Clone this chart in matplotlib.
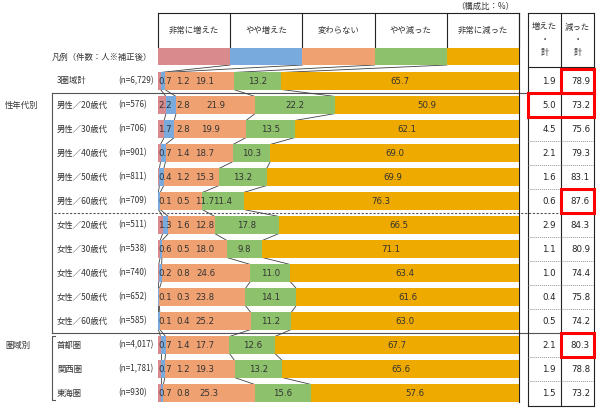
import matplotlib.pyplot as plt
from matplotlib.patches import Rectangle
import numpy as np

plt.rcParams['font.family'] = ['Noto Sans CJK JP', 'DejaVu Sans']

categories = ['非常に増えた', 'やや増えた', '変わらない', 'やや減った', '非常に減った']
colors = ['#D98A8C', '#79AADD', '#F0A171', '#8DC16C', '#EFAA00']

row_labels = ['3圏域計', '男性／20歳代', '男性／30歳代', '男性／40歳代', '男性／50歳代', '男性／60歳代',
              '女性／20歳代', '女性／30歳代', '女性／40歳代', '女性／50歳代', '女性／60歳代',
              '首都圏', '関西圏', '東海圏']
n_labels = ['(n=6,729)', '(n=576)', '(n=706)', '(n=901)', '(n=811)', '(n=709)',
            '(n=511)', '(n=538)', '(n=740)', '(n=652)', '(n=585)',
            '(n=4,017)', '(n=1,781)', '(n=930)']
very_up = [0.7, 2.2, 1.7, 0.7, 0.4, 0.1, 1.3, 0.6, 0.2, 0.1, 0.1, 0.7, 0.7, 0.7]
some_up = [1.2, 2.8, 2.8, 1.4, 1.2, 0.5, 1.6, 0.5, 0.8, 0.3, 0.4, 1.4, 1.2, 0.8]
same = [19.1, 21.9, 19.9, 18.7, 15.3, 11.7, 12.8, 18.0, 24.6, 23.8, 25.2, 17.7, 19.3, 25.3]
some_down = [13.2, 22.2, 13.5, 10.3, 13.2, 11.4, 17.8, 9.8, 11.0, 14.1, 11.2, 12.6, 13.2, 15.6]
very_down = [65.7, 50.9, 62.1, 69.0, 69.9, 76.3, 66.5, 71.1, 63.4, 61.6, 63.0, 67.7, 65.6, 57.6]
up_total = [1.9, 5.0, 4.5, 2.1, 1.6, 0.6, 2.9, 1.1, 1.0, 0.4, 0.5, 2.1, 1.9, 1.5]
down_total = [78.9, 73.2, 75.6, 79.3, 83.1, 87.6, 84.3, 80.9, 74.4, 75.8, 74.2, 80.3, 78.8, 73.2]

# red boxes in the right table: (row, first column, last column)
highlights = [(0, 1, 1), (1, 0, 1), (5, 1, 1), (11, 1, 1)]


def X(px):
    return (px - 158) / 3.61


def Y(px):
    return (px - 81) / 24


fig = plt.figure(figsize=(6, 4.11), dpi=100)
ax = fig.add_axes([0, 0, 1, 1])
ax.set_xlim(X(0), X(600))
ax.set_ylim(Y(411), Y(0))
ax.axis('off')

vals = np.array([very_up, some_up, same, some_down, very_down]).T
lefts = np.cumsum(vals, axis=1) - vals
rows = np.arange(len(row_labels))
h = 0.71
txt = '#333333'
line = '#404040'

# bars
for k in range(5):
    ax.barh(rows, vals[:, k], left=lefts[:, k], height=h, color=colors[k], zorder=3)

# connectors between bars
bounds = np.cumsum(vals, axis=1)[:, :4]
for i in range(len(rows) - 1):
    for k in range(4):
        ax.plot([bounds[i, k], bounds[i + 1, k]], [i + h / 2, i + 1 - h / 2],
                color=line, lw=0.6, zorder=2)
for k in range(4):
    ax.plot([20 * (k + 1), bounds[0, k]], [Y(65), -h / 2], color=line, lw=0.6, zorder=2)

# value labels, row labels, table numbers
for i in rows:
    c3 = lefts[i, 2] + vals[i, 2] / 2
    xs = [2.0, 7.0, max(c3, 13.0), lefts[i, 3] + vals[i, 3] / 2, lefts[i, 4] + vals[i, 4] / 2]
    for k in range(5):
        ax.text(xs[k], i, f'{vals[i, k]:.1f}', ha='center', va='center', fontsize=6.2,
                color=txt, zorder=4, family=['DejaVu Sans'])
    ax.text(X(57), i, row_labels[i], ha='left', va='center', fontsize=6, color=txt)
    ax.text(X(118), i, n_labels[i], ha='left', va='center', fontsize=5.9, color=txt)
    ax.text(X(556), i, f'{up_total[i]:.1f}', ha='right', va='center', fontsize=6.2,
            color='#222222', family=['DejaVu Sans'])
    ax.text(X(590), i, f'{down_total[i]:.1f}', ha='right', va='center', fontsize=6.2,
            color='#222222', family=['DejaVu Sans'])

# header / legend
for k in range(5):
    ax.add_patch(Rectangle((20 * k, Y(48)), 20, Y(65) - Y(48), color=colors[k], lw=0, zorder=3))
    ax.text(20 * k + 10, Y(30), categories[k], ha='center', va='center', fontsize=6, color=txt)
for k in range(6):
    ax.plot([20 * k, 20 * k], [Y(13), Y(48)], color='#222222', lw=0.8)
ax.plot([0, 100], [Y(13), Y(13)], color='#222222', lw=0.8)
ax.plot([100, 100], [Y(13), Y(402)], color='#222222', lw=0.8, zorder=2)
ax.text(X(152), Y(57), '凡例（件数：人※補正後）', ha='right', va='center', fontsize=6, color=txt)
ax.text(X(514), Y(6), '（構成比：%）', ha='right', va='center', fontsize=6, color=txt)

# right table
tl, tm, tr = X(528), X(561), X(594)
for x in (tl, tm, tr):
    ax.plot([x, x], [Y(13), Y(406)], color='#222222', lw=0.8)
ax.plot([tl, tr], [Y(13), Y(13)], color='#222222', lw=0.8)
ax.plot([tl, tr], [Y(67), Y(67)], color='#222222', lw=0.8)
ax.plot([tl, tr], [Y(406), Y(406)], color='#222222', lw=0.8)
for xc, word in ((X(544.5), '増えた'), (X(577.5), '減った')):
    ax.text(xc, Y(27), word, ha='center', va='center', fontsize=6, color=txt)
    ax.text(xc, Y(40), '・', ha='center', va='center', fontsize=6, color=txt)
    ax.text(xc, Y(53), '計', ha='center', va='center', fontsize=6, color=txt)
for i in list(range(1, 5)) + list(range(6, 10)) + [11, 12]:
    ax.plot([tl, tr], [i + 0.5, i + 0.5], color='#999999', lw=0.7, ls=(0, (1, 1)))

# group separators and brackets
ax.plot([X(52), tr], [0.5, 0.5], color='#555555', lw=0.8, zorder=1)
ax.plot([X(54), tr], [5.5, 5.5], color='#555555', lw=0.8, ls=(0, (2, 1.5)), zorder=1)
ax.plot([X(52), tr], [10.5, 10.5], color='#555555', lw=0.8, zorder=1)
ax.plot([X(52), X(52)], [0.5, 10.5], color='#555555', lw=0.8)
ax.plot([X(55), X(52), X(52), X(55)], [Y(336), Y(336), Y(400), Y(400)], color='#555555', lw=0.8)
ax.text(X(5), 1, '性年代別', ha='left', va='center', fontsize=6, color=txt)
ax.text(X(5), 11, '圏域別', ha='left', va='center', fontsize=6, color=txt)

# red highlight boxes
cols = [tl, tm, tr]
for r, c0, c1 in highlights:
    ax.add_patch(Rectangle((cols[c0], r - 0.5), cols[c1 + 1] - cols[c0], 1,
                           fill=False, edgecolor='#FF0000', lw=2.2, zorder=5))

fig.savefig('out.png', dpi=100)
